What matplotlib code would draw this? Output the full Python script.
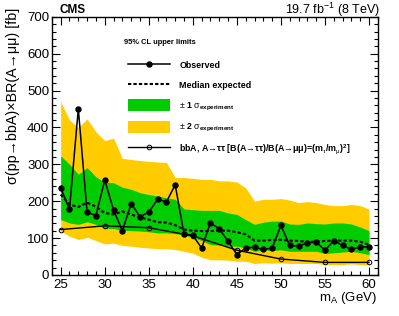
import numpy as np
import matplotlib
matplotlib.use("Agg")
import matplotlib.pyplot as plt
from matplotlib.lines import Line2D
from matplotlib.patches import Patch
from matplotlib.ticker import MultipleLocator

plt.rcParams['font.family'] = ['Liberation Sans', 'DejaVu Sans']
plt.rcParams['mathtext.fontset'] = 'custom'
plt.rcParams['mathtext.rm'] = 'Liberation Sans'
plt.rcParams['mathtext.it'] = 'Liberation Sans'
plt.rcParams['mathtext.bf'] = 'Liberation Sans:bold'

# Limits vs m_A (GeV), values in fb
mass = np.arange(25, 61)
observed = [236, 178, 450, 170, 161, 257, 176, 120, 193, 158, 170, 205, 198, 244, 111, 107,
            73, 141, 125, 91, 55, 73, 75, 69, 73, 134, 80, 78, 87, 89, 67, 93, 80, 69, 76, 76]
expected = [218, 191, 184, 196, 185, 168, 164, 172, 164, 156, 150, 143, 142, 135, 123, 120,
            119, 119, 120, 120, 116, 110, 93, 93, 95, 95, 93, 92, 90, 90, 92, 93, 93, 93, 90, 82]
band1_up = [323, 300, 273, 291, 266, 251, 250, 238, 232, 223, 218, 214, 209, 205, 179, 177,
            175, 175, 175, 168, 164, 150, 137, 143, 146, 146, 138, 137, 141, 139, 138, 141, 141, 138, 130, 120]
band1_dn = [150, 141, 137, 144, 137, 126, 126, 121, 120, 119, 117, 114, 114, 112, 108, 102,
            93, 82, 81, 78, 78, 73, 64, 68, 66, 68, 64, 64, 64, 64, 58, 60, 62, 64, 60, 55]
band2_up = [470, 420, 400, 423, 388, 364, 371, 316, 313, 310, 308, 306, 305, 264, 264, 262,
            259, 259, 255, 255, 252, 236, 200, 205, 205, 207, 203, 196, 199, 196, 191, 188, 188, 191, 188, 178]
band2_dn = [119, 105, 96, 102, 93, 84, 86, 80, 78, 75, 73, 71, 71, 69, 64, 59,
            48, 41, 41, 40, 37, 37, 31, 33, 32, 33, 31, 31, 31, 31, 28, 28, 28, 30, 28, 27]

# bbA, A->tautau prediction
theory_mass = [25, 30, 35, 40, 45, 50, 55, 60]
theory = [123, 133, 128, 106, 67, 43, 34, 34]

green = '#00cc00'
yellow = '#ffcc00'

fig = plt.figure(figsize=(3.99, 3.16), dpi=100)
ax = fig.add_axes([0.130, 0.130, 0.817, 0.817])

ax.fill_between(mass, band2_dn, band2_up, color=yellow, lw=0)
ax.fill_between(mass, band1_dn, band1_up, color=green, lw=0)
ax.plot(mass, expected, color='black', lw=1.5, ls=(0, (1.6, 1.0)))
ax.plot(theory_mass, theory, color='black', lw=1.0, marker='o', ms=3.3,
        mfc='none', mec='black', mew=0.7)
ax.plot(mass, observed, color='black', lw=1.1, marker='o', ms=3.6)

ax.set_xlim(24, 61)
ax.set_ylim(0, 700)
ax.xaxis.set_major_locator(MultipleLocator(5))
ax.xaxis.set_minor_locator(MultipleLocator(1))
ax.yaxis.set_major_locator(MultipleLocator(100))
ax.yaxis.set_minor_locator(MultipleLocator(20))
ax.tick_params(which='both', direction='in', top=True, right=True, width=0.8)
ax.tick_params(which='major', length=6, labelsize=9.5)
ax.tick_params(which='minor', length=3)
ax.tick_params(axis='x', pad=3)
ax.tick_params(axis='y', pad=2)
for s in ax.spines.values():
    s.set_linewidth(1.0)

fig.text(0.150, 0.968, 'CMS', fontsize=8.5, fontweight='bold', ha='left', va='center')
fig.text(0.953, 0.968, r'19.7 fb$^{-1}$ (8 TeV)', fontsize=9, ha='right', va='center')
fig.text(0.033, 0.975, r'σ(pp→bbA)×BR(A→μμ) [fb]', fontsize=10.3, rotation=90,
         ha='center', va='top')
fig.text(0.945, 0.057, r'm$_{\mathrm{A}}$ (GeV)', fontsize=9.5, ha='right', va='center')

# legend header
ax.text(0.221, 0.899, '95% CL upper limits', transform=ax.transAxes,
        fontsize=5.4, fontweight='bold', ha='left', va='center')

handles = [
    Line2D([], [], color='black', lw=1.1, marker='o', ms=3.6),
    Line2D([], [], color='black', lw=1.5, ls=(0, (1.6, 1.0))),
    Patch(facecolor=green, edgecolor='none'),
    Patch(facecolor=yellow, edgecolor='none'),
    Line2D([], [], color='black', lw=1.0, marker='o', ms=3.3, mfc='none', mew=0.7),
]
labels = [
    'Observed',
    'Median expected',
    r'$\pm$ 1 $\sigma_{\mathbf{experiment}}$',
    r'$\pm$ 2 $\sigma_{\mathbf{experiment}}$',
    r'bbA, A→ττ [B(A→ττ)/B(A→μμ)=(m$_{\tau}$/m$_{\mu}$)$^{\mathbf{2}}$]',
]
leg = ax.legend(handles, labels, loc='upper left', bbox_to_anchor=(0.233, 0.835),
                frameon=False, borderpad=0, borderaxespad=0,
                prop={'weight': 'bold', 'size': 6.4},
                handlelength=4.7, handletextpad=1.1,
                handleheight=1.7, labelspacing=0.9)

fig.savefig('out.png', dpi=100)
